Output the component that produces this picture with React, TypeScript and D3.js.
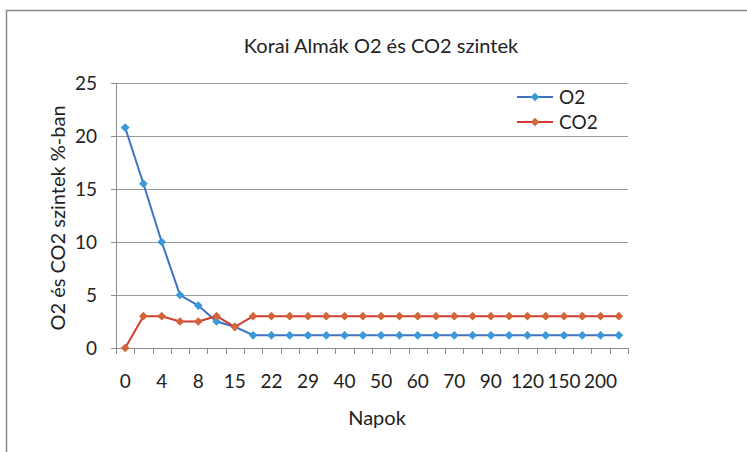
import * as d3 from "d3";
import { useEffect, useRef } from "react";

const days = ["0", "2", "4", "6", "8", "10", "15", "18", "22", "25", "29", "35", "40", "45", "50", "55", "60", "65", "70", "80", "90", "100", "120", "135", "150", "180", "200", "220"];
const labeledDays = ["0", "4", "8", "15", "22", "29", "40", "50", "60", "70", "90", "120", "150", "200"];
const o2 = [20.8, 15.5, 10, 5, 4, 2.5, 2, 1.2, 1.2, 1.2, 1.2, 1.2, 1.2, 1.2, 1.2, 1.2, 1.2, 1.2, 1.2, 1.2, 1.2, 1.2, 1.2, 1.2, 1.2, 1.2, 1.2, 1.2];
const co2 = [0, 3, 3, 2.5, 2.5, 3, 2, 3, 3, 3, 3, 3, 3, 3, 3, 3, 3, 3, 3, 3, 3, 3, 3, 3, 3, 3, 3, 3];
const yTicks = [0, 5, 10, 15, 20, 25];

const FONT = "Lato, 'Open Sans', sans-serif";

export default function App() {
  const ref = useRef<SVGSVGElement | null>(null);
  useEffect(() => {
    if (!ref.current) return;
    const svg = d3.select(ref.current);
    svg.selectAll("*").remove();
    const w = 747;
    const h = 452;
    const left = 116;
    const right = 628;
    const top = 83;
    const bottom = 348;

    svg.append("rect").attr("width", w).attr("height", h).attr("fill", "#fff");
    svg.append("rect").attr("x", 6.5).attr("y", 10.5).attr("width", 760).attr("height", 460).attr("fill", "none").attr("stroke", "#8a8a8a").attr("stroke-width", 1.5);

    const x = d3.scaleBand<string>().domain(days).range([left, right]);
    const y = d3.scaleLinear().domain([0, 25]).range([bottom, top]);

    // gridlines
    svg.selectAll(".grid").data(yTicks.filter((d) => d > 0)).join("line")
      .attr("x1", left).attr("x2", right)
      .attr("y1", (d) => y(d) + 0.5).attr("y2", (d) => y(d) + 0.5)
      .attr("stroke", "#9a9a9a").attr("stroke-width", 1);

    // y axis
    svg.append("line").attr("x1", left + 0.5).attr("x2", left + 0.5).attr("y1", top).attr("y2", bottom).attr("stroke", "#8a8a8a");
    svg.selectAll(".ytick").data(yTicks).join("line")
      .attr("x1", left - 5).attr("x2", left)
      .attr("y1", (d) => y(d) + 0.5).attr("y2", (d) => y(d) + 0.5)
      .attr("stroke", "#8a8a8a");
    svg.selectAll(".ylab").data(yTicks).join("text")
      .attr("x", 97).attr("y", (d) => y(d) + 7)
      .attr("text-anchor", "end").attr("font-family", FONT).attr("font-size", 19).attr("fill", "#222")
      .text((d) => d);

    // x axis
    svg.append("line").attr("x1", left).attr("x2", right).attr("y1", bottom + 0.5).attr("y2", bottom + 0.5).attr("stroke", "#8a8a8a");
    const edges = days.map((d) => x(d) ?? 0).concat([right]);
    svg.selectAll(".xtick").data(edges).join("line")
      .attr("x1", (d) => Math.round(d) + 0.5).attr("x2", (d) => Math.round(d) + 0.5)
      .attr("y1", bottom).attr("y2", bottom + 6)
      .attr("stroke", "#8a8a8a");
    svg.selectAll(".xlab").data(labeledDays).join("text")
      .attr("x", (d) => (x(d) ?? 0) + x.bandwidth() / 2).attr("y", 388)
      .attr("text-anchor", "middle").attr("font-family", FONT).attr("font-size", 19).attr("fill", "#222")
      .text((d) => d);

    // titles
    svg.append("text").attr("x", 381).attr("y", 53).attr("text-anchor", "middle")
      .attr("font-family", FONT).attr("font-size", 20).attr("fill", "#222").text("Korai Almák O2 és CO2 szintek");
    svg.append("text").attr("x", 377).attr("y", 425).attr("text-anchor", "middle")
      .attr("font-family", FONT).attr("font-size", 20).attr("fill", "#222").text("Napok");
    svg.append("text").attr("transform", "translate(65,218) rotate(-90)").attr("text-anchor", "middle")
      .attr("font-family", FONT).attr("font-size", 20).attr("fill", "#222").text("O2 és CO2 szintek %-ban");

    const cx = (i: number) => (x(days[i]) ?? 0) + x.bandwidth() / 2;
    const line = d3.line<number>().x((_, i) => cx(i)).y((d) => y(d));
    // square rotated 45deg gives Excel-like diamond markers
    const diamond = d3.symbol().type(d3.symbolSquare).size(38);

    const series = [
      { name: "O2", values: o2, stroke: "#3f72c4", marker: "#3a9ad9" },
      { name: "CO2", values: co2, stroke: "#d23a2c", marker: "#d2653a" },
    ];

    series.forEach((s, k) => {
      svg.append("path").attr("d", line(s.values) ?? "").attr("fill", "none")
        .attr("stroke", s.stroke).attr("stroke-width", 2);
      svg.selectAll(`.m${k}`).data(s.values).join("path")
        .attr("d", diamond())
        .attr("transform", (d, i) => `translate(${cx(i)},${y(d)}) rotate(45)`)
        .attr("fill", s.marker);
      const ly = 97 + k * 25;
      svg.append("line").attr("x1", 517).attr("x2", 553).attr("y1", ly).attr("y2", ly)
        .attr("stroke", s.stroke).attr("stroke-width", 2);
      svg.append("path").attr("d", diamond()).attr("transform", `translate(535,${ly}) rotate(45)`).attr("fill", s.marker);
      svg.append("text").attr("x", 559).attr("y", ly + 7).attr("font-family", FONT).attr("font-size", 19).attr("fill", "#222").text(s.name);
    });
  }, []);
  return <svg ref={ref} width={747} height={452} style={{ position: "absolute", left: 0, top: 0 }} />;
}
